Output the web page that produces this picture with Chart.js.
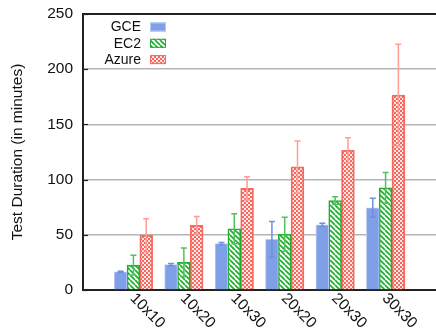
<!DOCTYPE html>
<html>
<head>
<meta charset="utf-8">
<script src="https://cdn.jsdelivr.net/npm/chart.js@4/dist/chart.umd.min.js"></script>
<style>
html,body{margin:0;padding:0;background:#fff;}
#c{display:block;}
</style>
</head>
<body>
<canvas id="c" width="436" height="329"></canvas>
<script>
const categories = ['10x10', '10x20', '10x30', '20x20', '20x30', '30x30'];
const seriesNames = ['GCE', 'EC2', 'Azure'];
const gce = [16.5, 23, 42, 46, 59, 74.5];
const gceErr = [0.5, 1, 1, 16, 1.5, 8.5];
const ec2 = [22.5, 25, 55.5, 50.5, 81, 92.5];
const ec2Err = [9, 13, 13.5, 15.5, 3.5, 14];
const azure = [49.5, 58.5, 92, 111.5, 126.5, 176.5];
const azureErr = [15, 8, 10.5, 23.5, 11.5, 46];
const yTicks = [0, 50, 100, 150, 200, 250];

const FONT = "'Liberation Sans', Arial, Helvetica, sans-serif";
const BLUE = '#7f9fe6', GREEN = '#1fae2e', SALMON = '#f5695f';

function makePattern(kind) {
  const p = document.createElement('canvas');
  const g = p.getContext('2d');
  if (kind === 'hatch') {
    p.width = 5; p.height = 5;
    g.fillStyle = '#fff'; g.fillRect(0, 0, 5, 5);
    g.strokeStyle = GREEN; g.lineWidth = 1.7;
    for (let k = -5; k <= 10; k += 5) {
      g.beginPath(); g.moveTo(k, 0); g.lineTo(k + 5, 5); g.stroke();
    }
  } else {
    p.width = 4; p.height = 4;
    g.fillStyle = SALMON; g.fillRect(0, 0, 4, 4);
    g.fillStyle = 'rgba(255,255,255,0.85)';
    g.fillRect(0, 0, 2, 2); g.fillRect(2, 2, 2, 2);
  }
  return g.createPattern(p, 'repeat');
}
const ctx0 = document.getElementById('c').getContext('2d');
const hatch = makePattern('hatch');
const checks = makePattern('checks');

const toXY = arr => arr.map((v, i) => ({x: i, y: v}));
const errs = [gceErr, ec2Err, azureErr];
const errColors = ['#6f8fe0', '#4cc45a', '#ff9c96'];

const styles = [
  {bg: BLUE, border: '#b9cbf3', bw: 1},
  {bg: hatch, border: GREEN, bw: 1.6},
  {bg: checks, border: SALMON, bw: 1.8}
];

const errorBars = {
  id: 'errorBars',
  afterDatasetsDraw(chart) {
    const c = chart.ctx, ys = chart.scales.y;
    c.save();
    chart.data.datasets.forEach((ds, d) => {
      const meta = chart.getDatasetMeta(d);
      meta.data.forEach((el, i) => {
        const v = ds.data[i].y, e = errs[d][i];
        const yt = ys.getPixelForValue(v + e), yb = ys.getPixelForValue(v - e);
        c.strokeStyle = errColors[d]; c.lineWidth = 1.5;
        c.beginPath();
        c.moveTo(el.x, yt); c.lineTo(el.x, yb);
        c.moveTo(el.x - 3, yt); c.lineTo(el.x + 3, yt);
        c.moveTo(el.x - 3, yb); c.lineTo(el.x + 3, yb);
        c.stroke();
      });
    });
    c.restore();
  }
};

const decorations = {
  id: 'decorations',
  afterDraw(chart) {
    const c = chart.ctx, a = chart.chartArea, xs = chart.scales.x, ys = chart.scales.y;
    c.save();
    // inward y ticks
    c.strokeStyle = '#222'; c.lineWidth = 1.2;
    yTicks.forEach(t => {
      const y = Math.round(ys.getPixelForValue(t)) + 0.5;
      c.beginPath(); c.moveTo(a.left, y); c.lineTo(a.left + 5, y); c.stroke();
    });
    // x category labels, rotated clockwise
    c.fillStyle = '#111';
    c.font = '15.5px ' + FONT;
    c.textAlign = 'left'; c.textBaseline = 'middle';
    categories.forEach((lab, i) => {
      const x = xs.getPixelForValue(i);
      c.save();
      c.translate(x - 1, a.bottom + 6);
      c.rotate(Math.PI / 4);
      c.fillText(lab, 0, 0);
      c.restore();
    });
    // legend
    c.font = '14px ' + FONT;
    c.textAlign = 'right'; c.textBaseline = 'middle';
    seriesNames.forEach((n, k) => {
      const y = 27 + k * 16.3;
      c.fillStyle = '#111';
      c.fillText(n, 141, y + 0.5);
      c.fillStyle = styles[k].bg;
      c.fillRect(150, y - 4.5, 16, 9);
      c.strokeStyle = styles[k].border; c.lineWidth = 1;
      c.strokeRect(150.5, y - 4, 15, 8);
    });
    c.restore();
  }
};

const datasets = [gce, ec2, azure].map((arr, k) => ({
  label: seriesNames[k],
  data: toXY(arr),
  backgroundColor: styles[k].bg,
  borderColor: styles[k].border,
  borderWidth: styles[k].bw,
  barThickness: 12.8,
  borderSkipped: 'bottom'
}));

new Chart(ctx0, {
  type: 'bar',
  data: {datasets},
  plugins: [errorBars, decorations],
  options: {
    responsive: false,
    animation: false,
    events: [],
    layout: {padding: {top: 14, bottom: 39, left: 0, right: 0}},
    plugins: {legend: {display: false}, tooltip: {enabled: false}},
    scales: {
      x: {
        type: 'linear', min: -1, max: 6, offset: false,
        ticks: {display: false, stepSize: 1},
        grid: {display: false, drawTicks: false},
        border: {display: true, color: '#222', width: 2}
      },
      y: {
        min: 0, max: 250,
        afterFit: s => { s.width = 83; },
        afterBuildTicks: s => { s.ticks = yTicks.map(v => ({value: v})); },
        ticks: {padding: 2, color: '#111', font: {family: FONT, size: 15.5}},
        grid: {
          drawTicks: true, tickLength: 8, tickColor: 'rgba(0,0,0,0)',
          color: c => c.tick.value === 250 ? '#222' : (c.tick.value === 0 ? 'rgba(0,0,0,0)' : '#b5b5b5'),
          lineWidth: c => c.tick.value === 250 ? 2 : 1.5
        },
        border: {display: true, color: '#222', width: 2},
        title: {display: true, text: 'Test Duration (in minutes)', color: '#111',
                font: {family: FONT, size: 15.5}, padding: {top: 8, bottom: 0}}
      }
    }
  }
});
</script>
</body>
</html>
